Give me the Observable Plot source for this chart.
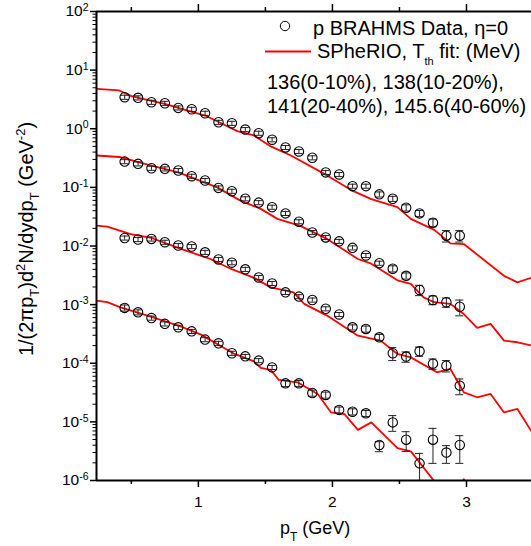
<!DOCTYPE html>
<html>
<head>
<meta charset="utf-8">
<script src="https://cdn.jsdelivr.net/npm/d3@7"></script>
<script src="https://cdn.jsdelivr.net/npm/@observablehq/plot@0.6"></script>
<style>
  body { margin: 0; background: #fff; }
  #chart { position: relative; width: 531px; height: 546px; overflow: hidden; }
  svg { font-family: "Liberation Sans", Arial, sans-serif; }
  g[aria-label="x-axis tick label"] text, g[aria-label="y-axis tick label"] text { font-size: 15.5px !important; }
</style>
</head>
<body>
<div id="chart"></div>
<script>
// ---------- data ----------
const pT = [0.45,0.55,0.65,0.75,0.85,0.95,1.05,1.15,1.25,1.35,1.45,1.55,1.65,1.75,1.85,1.95,2.05,2.15,2.25,2.35,2.45,2.55,2.65,2.75,2.85,2.95];

// BRAHMS data, four centrality classes (scaled)
const data0to10 = [3.45,3.37,2.83,2.72,2.27,2.15,1.84,1.29,1.24,0.97,0.84,0.65,0.48,0.41,0.32,0.18,0.166,0.105,0.105,0.076,0.064,0.045,0.036,0.025,0.015,0.015];
const data10to20 = [0.275,0.252,0.212,0.207,0.194,0.155,0.131,0.098,0.086,0.064,0.055,0.046,0.036,0.026,0.017,0.014,0.012,0.0093,0.0069,0.0051,0.0041,0.0031,0.00178,0.0012,0.0011,0.00092];
const data20to40 = [0.0137,0.0129,0.0132,0.0116,0.0102,0.0098,0.0078,0.0059,0.0052,0.0040,0.0029,0.0023,0.00162,0.00137,0.0012,0.00085,0.00068,0.00041,0.000385,0.000277,0.000148,0.00013,0.00016,0.0000985,0.000091,0.0000415];
const data40to60 = [0.00088,0.00074,0.00059,0.00047,0.00041,0.00035,0.000253,0.000219,0.000148,0.000131,0.000111,0.000085,0.0000454,0.0000454,0.0000311,0.0000288,0.000016,0.0000149,0.000014,0.00000404,0.0000098,0.00000497,0.00000196,0.00000497,0.000003,0.00000404];

// relative errors
const err0to10 = [0.08,0.08,0.08,0.08,0.08,0.08,0.08,0.08,0.08,0.08,0.08,0.08,0.08,0.08,0.08,0.08,0.08,0.08,0.08,0.1,0.1,0.12,0.12,0.15,0.22,0.22];
const err10to20 = [0.08,0.08,0.08,0.08,0.08,0.08,0.08,0.08,0.08,0.08,0.08,0.08,0.08,0.08,0.08,0.08,0.08,0.08,0.08,0.08,0.12,0.12,0.2,0.17,0.18,0.3];
const err20to40 = [0.08,0.08,0.08,0.08,0.08,0.08,0.08,0.08,0.08,0.08,0.08,0.08,0.08,0.08,0.08,0.08,0.08,0.1,0.12,0.12,0.25,0.2,0.18,0.2,0.22,0.3];
const err40to60 = [0.12,0.1,0.08,0.08,0.08,0.08,0.08,0.08,0.08,0.08,0.08,0.08,0.12,0.12,0.12,0.12,0.12,0.12,0.12];
// explicit error bar ends for the last seven 40-60% points
const lo40to60Late = [0.0000031,0.0000069,0.00000314,0.0000005,0.00000196,0.00000196,0.00000196];
const hi40to60Late = [0.00000459,0.0000128,0.0000068,0.0000029,0.00000775,0.00000393,0.00000582];

// SPheRIO curves
const fit0to10X = [0.24,0.41,0.5,0.65,0.75,0.9,1.05,1.14,1.29,1.415,1.54,1.69,1.96,2.14,2.29,2.485,2.585,2.76,2.88,2.98,3.28,3.38,3.49];
const fit0to10Y = [4.8,4.5,3.6,3.0,2.65,2.1,1.68,1.34,0.91,0.77,0.50,0.35,0.16,0.09,0.063,0.046,0.029,0.0188,0.0111,0.0108,0.0031,0.0024,0.0029];
const fit10to20X = [0.24,0.41,0.65,0.85,1.14,1.31,1.465,1.59,1.76,1.96,2.19,2.29,2.485,2.585,2.68,2.76,2.88,2.98,3.08,3.18,3.28,3.38,3.49];
const fit10to20Y = [0.35,0.33,0.235,0.18,0.10,0.06,0.043,0.029,0.022,0.0132,0.006,0.005,0.0026,0.00225,0.00133,0.0011,0.00103,0.00069,0.0004,0.00047,0.000243,0.000228,0.0002];
const fit20to40X = [0.24,0.32,0.495,0.65,0.87,1.09,1.24,1.415,1.54,1.71,1.79,1.96,2.19,2.36,2.485,2.585,2.78,2.88,2.98,3.08,3.18,3.28,3.38,3.49];
const fit20to40Y = [0.0223,0.0214,0.016,0.0137,0.0089,0.006,0.0041,0.00286,0.00197,0.00162,0.00103,0.00065,0.000295,0.000243,0.000144,0.000126,0.00007,0.00008,0.0000319,0.0000263,0.0000299,0.0000145,0.0000166,0.0000066];
const fit40to60X = [0.24,0.32,0.42,0.65,0.85,1.02,1.14,1.27,1.415,1.465,1.54,1.6,1.74,1.89,1.99,2.09,2.19,2.29,2.485,2.585,2.76,2.88,2.98,3.08,3.3];
const fit40to60Y = [0.00117,0.0011,0.0009,0.00062,0.00044,0.000308,0.000213,0.000144,0.000108,0.0000832,0.0000769,0.0000519,0.0000473,0.0000299,0.0000145,0.0000136,0.0000073,0.0000098,0.00000358,0.00000314,0.00000097,0.0000004,0.00000105,0.0000004,0.0000001];

// axes
const xDomain = [0.24, 3.485];
const yDomain = [1e-6, 1e2];
const xMajorTicks = [1, 2, 3];
const xMajorLabels = ["1", "2", "3"];
const xMinorTicks = [0.5, 1.5, 2.5];
const yMajorTicks = [1e-6, 1e-5, 1e-4, 1e-3, 1e-2, 1e-1, 1e0, 1e1, 1e2];
const yExponents = ["-6", "-5", "-4", "-3", "-2", "-1", "0", "1", "2"];
const yMinorMultipliers = [2, 3, 4, 5, 6, 7, 8, 9];

const legendLines = ["136(0-10%), 138(10-20%),", "141(20-40%), 145.6(40-60%)"];

// ---------- build tables ----------
function points(vals, errs, lateLo, lateHi) {
  return pT.map((x, i) => {
    const y = vals[i];
    let lo, hi;
    if (i < errs.length) { lo = y * (1 - errs[i]); hi = y * (1 + errs[i]); }
    else { const j = i - errs.length; lo = lateLo[j]; hi = lateHi[j]; }
    return {x, y, lo, hi};
  });
}
const pts = [
  ...points(data0to10, err0to10),
  ...points(data10to20, err10to20),
  ...points(data20to40, err20to40),
  ...points(data40to60, err40to60, lo40to60Late, hi40to60Late)
];
const curve = (xs, ys, k) => xs.map((x, i) => ({x, y: ys[i], k}));
const curves = [
  ...curve(fit0to10X, fit0to10Y, "a"),
  ...curve(fit10to20X, fit10to20Y, "b"),
  ...curve(fit20to40X, fit20to40Y, "c"),
  ...curve(fit40to60X, fit40to60Y, "d")
];
const yMinorTicks = yMajorTicks.slice(0, -1).flatMap(d => yMinorMultipliers.map(m => d * m));
const cap = 0.03;

const plot = Plot.plot({
  width: 531, height: 546,
  marginLeft: 96, marginRight: 0, marginTop: 11, marginBottom: 66,
  style: {fontFamily: "'Liberation Sans', Arial, sans-serif", background: "white", color: "black", overflow: "visible"},
  x: {type: "linear", domain: xDomain},
  y: {type: "log", domain: yDomain},
  marks: [
    Plot.line(curves, {x: "x", y: "y", z: "k", stroke: "#ff0000", strokeWidth: 1.8, clip: true}),
    Plot.ruleX(pts, {x: "x", y1: "lo", y2: "hi", stroke: "#222", strokeWidth: 1, clip: true}),
    Plot.ruleY(pts, {y: "lo", x1: d => d.x - cap, x2: d => d.x + cap, stroke: "#222", strokeWidth: 1, clip: true}),
    Plot.ruleY(pts, {y: "hi", x1: d => d.x - cap, x2: d => d.x + cap, stroke: "#222", strokeWidth: 1, clip: true}),
    Plot.dot(pts, {x: "x", y: "y", r: 4.7, stroke: "black", strokeWidth: 1.1, fill: "none", clip: true}),
    Plot.axisX({ticks: xMajorTicks, tickSize: 7, tickPadding: 8, fontSize: 15, label: null, strokeWidth: 1.5,
                tickFormat: d => xMajorLabels[xMajorTicks.indexOf(d)]}),
    Plot.axisX({ticks: xMinorTicks, tickSize: 4, tickFormat: () => "", label: null, strokeWidth: 1.5}),
    Plot.axisX({anchor: "top", ticks: xMajorTicks, tickSize: 8, tickFormat: () => "", label: null, strokeWidth: 1.5}),
    Plot.axisX({anchor: "top", ticks: xMinorTicks, tickSize: 5, tickFormat: () => "", label: null, strokeWidth: 1.5}),
    Plot.axisY({ticks: yMajorTicks, tickSize: 6, tickPadding: 2, fontSize: 15, label: null, strokeWidth: 1.5,
                tickFormat: d => "10^" + yExponents[yMajorTicks.indexOf(d)]}),
    Plot.axisY({ticks: yMinorTicks, tickSize: 3.5, tickFormat: () => "", label: null, strokeWidth: 1}),
    Plot.ruleX([xDomain[0]], {stroke: "black", strokeWidth: 2}),
    Plot.ruleY([yDomain[0]], {stroke: "black", strokeWidth: 2}),
    Plot.ruleY([yDomain[1]], {stroke: "black", strokeWidth: 2})
  ]
});

document.getElementById("chart").appendChild(plot);
const svg = d3.select(plot);

// superscript exponents on y tick labels
svg.selectAll('g[aria-label="y-axis tick label"] text').each(function () {
  const t = this.textContent;
  this.style.fontSize = "15.5px";
  if (t.startsWith("10^")) {
    const e = t.slice(3);
    const s = d3.select(this);
    s.text("10");
    s.append("tspan").attr("dy", "-0.5em").style("font-size", "10.5px").text(e);
  }
});
svg.selectAll('g[aria-label="x-axis tick label"] text').each(function () {
  this.style.fontSize = "15.5px";
});

// rich text helper
function rich(sel, parts, baseSize) {
  let off = 0;
  parts.forEach(([txt, kind, size]) => {
    const target = kind === "sub" ? (size ? 7 : 6) : kind === "sup" ? -8 : 0;
    const ts = sel.append("tspan").text(txt)
      .attr("font-size", (kind === "n" ? baseSize : (size || 13)) + "px");
    if (target !== off) ts.attr("dy", target - off);
    off = target;
  });
}

// axis titles
const xl = svg.append("text").attr("x", 280).attr("y", 534).attr("fill", "black").attr("text-anchor", "start");
rich(xl, [["p", "n"], ["T", "sub", 12], [" (GeV)", "n"]], 18);

const yl = svg.append("text").attr("transform", "translate(33,239) rotate(-90)")
  .attr("text-anchor", "middle").attr("fill", "black");
rich(yl, [["1/(2πp", "n"], ["T", "sub"], [")d", "n"], ["2", "sup"], ["N/dydp", "n"], ["T", "sub"],
          [" (GeV", "n"], ["-2", "sup"], [")", "n"]], 20);

// legend
const lg = svg.append("g").attr("fill", "black").attr("font-size", "20px").attr("text-anchor", "start");
lg.append("circle").attr("cx", 285).attr("cy", 26).attr("r", 4.7).attr("fill", "none").attr("stroke", "black");
lg.append("text").attr("x", 313).attr("y", 35).text("p BRAHMS Data, η=0");
lg.append("line").attr("x1", 265).attr("x2", 311).attr("y1", 51.5).attr("y2", 51.5)
  .attr("stroke", "#ff0000").attr("stroke-width", 1.8);
const l2 = lg.append("text").attr("x", 317).attr("y", 58);
rich(l2, [["SPheRIO, T", "n"], ["th", "sub", 11], [" fit: (MeV)", "n"]], 20);
lg.append("text").attr("x", 267).attr("y", 89).text(legendLines[0]);
lg.append("text").attr("x", 267).attr("y", 112.5).text(legendLines[1]);
</script>
</body>
</html>
